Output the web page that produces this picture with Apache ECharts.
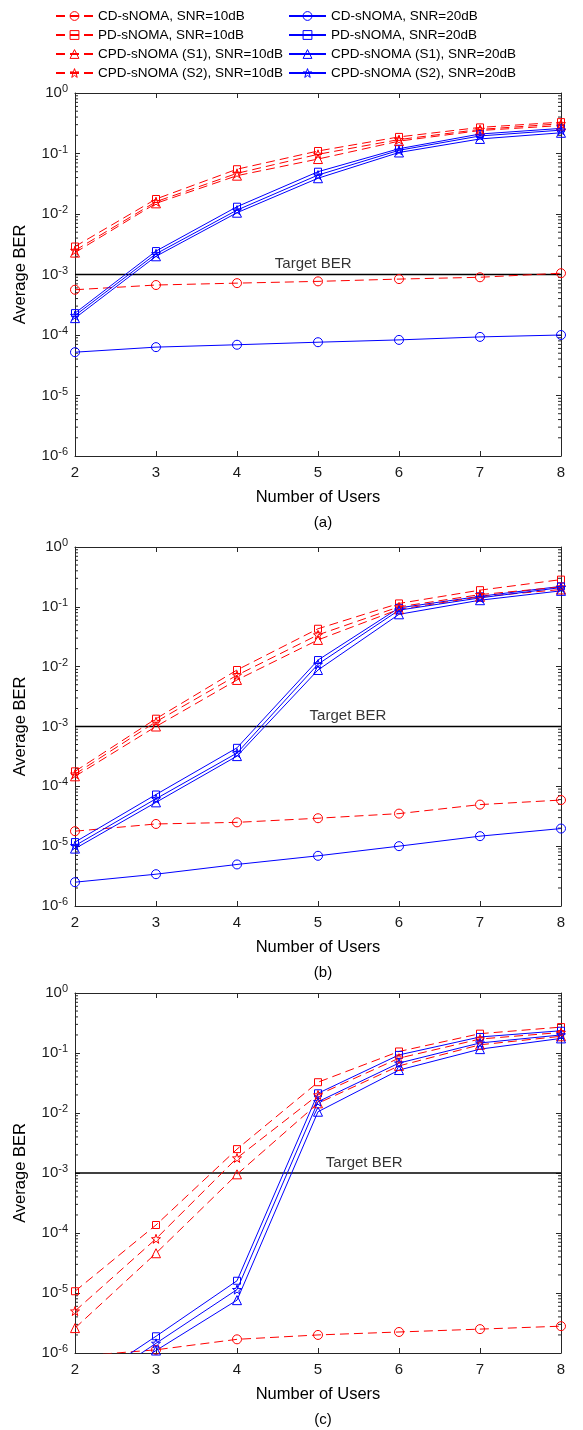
<!DOCTYPE html>
<html>
<head>
<meta charset="utf-8">
<script src="https://cdn.jsdelivr.net/npm/echarts@6/dist/echarts.min.js"></script>
<style>
  html, body { margin: 0; padding: 0; background: #fff; }
  #chart { width: 583px; height: 1430px; }
</style>
</head>
<body>
<div id="chart"></div>
<script>
// Number of users on the x axis
const users = [2, 3, 4, 5, 6, 7, 8];

// (a)
const cd10_a  = [5.6e-4, 6.7e-4, 7.2e-4, 7.7e-4, 8.4e-4, 9.0e-4, 1.05e-3];
const cd20_a  = [5.2e-5, 6.3e-5, 6.9e-5, 7.6e-5, 8.3e-5, 9.3e-5, 1.0e-4];
const pd10_a  = [2.9e-3, 1.77e-2, 5.5e-2, 0.11, 0.188, 0.27, 0.33];
const pd20_a  = [2.3e-4, 2.44e-3, 1.32e-2, 5.0e-2, 0.12, 0.21, 0.26];
const s1_10_a = [2.3e-3, 1.5e-2, 4.3e-2, 0.081, 0.16, 0.24, 0.29];
const s1_20_a = [1.9e-4, 2.0e-3, 1.05e-2, 3.9e-2, 0.104, 0.174, 0.22];
const s2_10_a = [2.5e-3, 1.6e-2, 4.7e-2, 0.097, 0.17, 0.25, 0.31];
const s2_20_a = [2.1e-4, 2.2e-3, 1.16e-2, 4.4e-2, 0.113, 0.195, 0.243];

// (b)
const cd10_b  = [1.78e-5, 2.35e-5, 2.5e-5, 2.93e-5, 3.5e-5, 4.95e-5, 5.9e-5];
const cd20_b  = [2.5e-6, 3.4e-6, 4.95e-6, 6.9e-6, 1.0e-5, 1.47e-5, 1.97e-5];
const pd10_b  = [1.78e-4, 1.35e-3, 8.8e-3, 0.043, 0.114, 0.19, 0.285];
const pd20_b  = [1.17e-5, 7.3e-5, 4.4e-4, 0.0129, 0.096, 0.15, 0.22];
const s1_10_b = [1.47e-4, 1.0e-3, 6.0e-3, 0.028, 0.091, 0.147, 0.195];
const s1_20_b = [9.1e-6, 5.4e-5, 3.2e-4, 8.8e-3, 0.075, 0.129, 0.185];
const s2_10_b = [1.6e-4, 1.2e-3, 7.2e-3, 0.034, 0.1, 0.16, 0.215];
const s2_20_b = [1.02e-5, 6.2e-5, 3.6e-4, 0.011, 0.088, 0.141, 0.21];

// (c)
const cd10_c  = [8.8e-7, 1.13e-6, 1.69e-6, 2.0e-6, 2.24e-6, 2.5e-6, 2.8e-6];
const pd10_c  = [1.07e-5, 1.36e-4, 2.5e-3, 0.0326, 0.106, 0.21, 0.27];
const pd20_c  = [2.4e-7, 1.9e-6, 1.6e-5, 0.0213, 0.093, 0.185, 0.235];
const s1_10_c = [2.6e-6, 4.6e-5, 9.5e-4, 0.0145, 0.061, 0.137, 0.19];
const s1_20_c = [1.4e-7, 1.1e-6, 7.6e-6, 0.0105, 0.052, 0.116, 0.175];
const s2_10_c = [5.0e-6, 8.0e-5, 1.78e-3, 0.020, 0.082, 0.171, 0.22];
const s2_20_c = [1.8e-7, 1.45e-6, 1.14e-5, 0.0154, 0.068, 0.147, 0.2];

// Target BER reference and where its caption sits along x
const targetBER = 1e-3;
const targetLabelX = [4.94, 5.37, 5.57];

const panelCaptions = ['(a)', '(b)', '(c)'];
const xTitle = 'Number of Users';
const yTitle = 'Average BER';

const seriesNames = {
  cd10: 'CD-sNOMA, SNR=10dB',  cd20: 'CD-sNOMA, SNR=20dB',
  pd10: 'PD-sNOMA, SNR=10dB',  pd20: 'PD-sNOMA, SNR=20dB',
  s1_10: 'CPD-sNOMA (S1), SNR=10dB', s1_20: 'CPD-sNOMA (S1), SNR=20dB',
  s2_10: 'CPD-sNOMA (S2), SNR=10dB', s2_20: 'CPD-sNOMA (S2), SNR=20dB'
};

const panels = [
  { cd10: cd10_a, cd20: cd20_a, pd10: pd10_a, pd20: pd20_a, s1_10: s1_10_a, s1_20: s1_20_a, s2_10: s2_10_a, s2_20: s2_20_a },
  { cd10: cd10_b, cd20: cd20_b, pd10: pd10_b, pd20: pd20_b, s1_10: s1_10_b, s1_20: s1_20_b, s2_10: s2_10_b, s2_20: s2_20_b },
  { cd10: cd10_c, pd10: pd10_c, pd20: pd20_c, s1_10: s1_10_c, s1_20: s1_20_c, s2_10: s2_10_c, s2_20: s2_20_c }
];

const FONT = '"Liberation Sans", Arial, Helvetica, sans-serif';
const AXIS = '#262626';
const RED = '#ff0000';
const BLUE = '#0000ff';
const STAR = 'path://M0,-10L2.35,-3.24L9.51,-3.09L3.8,1.24L5.88,8.09L0,4L-5.88,8.09L-3.8,1.24L-9.51,-3.09L-2.35,-3.24Z';

const styles = {
  cd10:  { color: RED,  dash: [9, 5], symbol: 'circle',   size: 9 },
  cd20:  { color: BLUE, dash: 'solid', symbol: 'circle',  size: 9 },
  pd10:  { color: RED,  dash: [9, 5], symbol: 'rect',     size: 7 },
  pd20:  { color: BLUE, dash: 'solid', symbol: 'rect',    size: 7 },
  s1_10: { color: RED,  dash: [9, 5], symbol: 'triangle', size: 9 },
  s1_20: { color: BLUE, dash: 'solid', symbol: 'triangle',size: 9 },
  s2_10: { color: RED,  dash: [9, 5], symbol: STAR,       size: 9 },
  s2_20: { color: BLUE, dash: 'solid', symbol: STAR,      size: 9 }
};
const drawOrder = ['cd10', 'cd20', 'pd10', 'pd20', 's1_10', 's1_20', 's2_10', 's2_20'];

// Plot-area boxes for the three stacked panels
const boxes = [
  { top: 93,  height: 363 },
  { top: 547, height: 359 },
  { top: 993, height: 360 }
];
const gridLeft = 75, gridWidth = 486;

const grids = [], xAxes = [], yAxes = [], series = [], titles = [];

boxes.forEach((b, g) => {
  grids.push({ left: gridLeft, top: b.top, width: gridWidth, height: b.height, containLabel: false });

  // bottom x axis with labels, top x axis for the box
  xAxes.push({
    type: 'value', gridIndex: g, min: 2, max: 8, interval: 1, position: 'bottom',
    name: xTitle, nameLocation: 'middle', nameGap: 33,
    nameTextStyle: { fontFamily: FONT, fontSize: 16.5, color: '#000' },
    axisLine: { show: true, onZero: false, lineStyle: { color: AXIS, width: 1 } },
    axisTick: { show: true, inside: true, length: 5, lineStyle: { color: AXIS } },
    axisLabel: { fontFamily: FONT, fontSize: 15, color: '#1a1a1a', margin: 9 },
    splitLine: { show: false }
  });
  xAxes.push({
    type: 'value', gridIndex: g, min: 2, max: 8, interval: 1, position: 'top',
    axisLine: { show: true, onZero: false, lineStyle: { color: AXIS, width: 1 } },
    axisTick: { show: true, inside: true, length: 5, lineStyle: { color: AXIS } },
    axisLabel: { show: false }, splitLine: { show: false }
  });

  yAxes.push({
    type: 'log', logBase: 10, gridIndex: g, min: 1e-6, max: 1, splitNumber: 6, position: 'left',
    name: yTitle, nameLocation: 'middle', nameGap: 46,
    nameTextStyle: { fontFamily: FONT, fontSize: 16.5, color: '#000' },
    axisLine: { show: true, onZero: false, lineStyle: { color: AXIS, width: 1 } },
    axisTick: { show: true, inside: true, length: 5, lineStyle: { color: AXIS } },
    axisLabel: {
      margin: 7, color: '#1a1a1a',
      formatter: v => '{b|10}{s|' + Math.round(Math.log10(v)) + '}',
      rich: {
        b: { fontFamily: FONT, fontSize: 15, color: '#1a1a1a' },
        s: { fontFamily: FONT, fontSize: 11, color: '#1a1a1a', verticalAlign: 'bottom', padding: [0, 0, 8, 0] }
      }
    },
    splitLine: { show: false }
  });
  yAxes.push({
    type: 'log', logBase: 10, gridIndex: g, min: 1e-6, max: 1, splitNumber: 6, position: 'right',
    axisLine: { show: true, onZero: false, lineStyle: { color: AXIS, width: 1 } },
    axisTick: { show: true, inside: true, length: 5, lineStyle: { color: AXIS } },
    axisLabel: { show: false }, splitLine: { show: false }
  });

  const p = panels[g];
  drawOrder.forEach(key => {
    if (!p[key]) return;
    const st = styles[key];
    series.push({
      name: seriesNames[key], type: 'line', xAxisIndex: g * 2, yAxisIndex: g * 2,
      data: users.map((u, i) => [u, p[key][i]]),
      symbol: st.symbol, symbolSize: st.size, showAllSymbol: true, clip: true,
      lineStyle: { color: st.color, width: 1, type: st.dash },
      itemStyle: { color: 'rgba(255,255,255,0)', borderColor: st.color, borderWidth: 1 },
      emphasis: { disabled: true }, animation: false, z: 3
    });
  });

  // Target BER line and its caption
  series.push({
    name: 'Target BER', type: 'line', xAxisIndex: g * 2, yAxisIndex: g * 2,
    data: [[users[0], targetBER], [users[users.length - 1], targetBER]],
    symbol: 'none', lineStyle: { color: '#000', width: 1.5 }, animation: false, z: 2,
    emphasis: { disabled: true }
  });
  series.push({
    name: 'Target BER label', type: 'scatter', xAxisIndex: g * 2, yAxisIndex: g * 2,
    data: [[targetLabelX[g], targetBER]], symbolSize: 0, animation: false,
    label: { show: true, position: 'top', distance: 3, formatter: 'Target BER',
             fontFamily: FONT, fontSize: 15, color: '#000' },
    emphasis: { disabled: true }
  });

  titles.push({
    text: panelCaptions[g], left: gridLeft + gridWidth / 2, top: b.top + b.height + 54,
    textAlign: 'center',
    textStyle: { fontFamily: FONT, fontSize: 15, fontWeight: 'normal', color: '#000' }
  });
});

const legendCommon = {
  orient: 'vertical', top: 9, itemWidth: 37, itemHeight: 11, itemGap: 5,
  padding: 0, selectedMode: false,
  textStyle: { fontFamily: FONT, fontSize: 13.5, color: '#000', lineHeight: 14, padding: [0, 0, 0, 0] },
  itemStyle: { borderWidth: 1 }
};

const option = {
  backgroundColor: '#fff',
  animation: false,
  title: titles,
  legend: [
    Object.assign({}, legendCommon, { left: 55, data: [seriesNames.cd10, seriesNames.pd10, seriesNames.s1_10, seriesNames.s2_10] }),
    Object.assign({}, legendCommon, { left: 288, data: [seriesNames.cd20, seriesNames.pd20, seriesNames.s1_20, seriesNames.s2_20] })
  ],
  grid: grids,
  xAxis: xAxes,
  yAxis: yAxes,
  series: series
};

const chart = echarts.init(document.getElementById('chart'), null, { renderer: 'canvas' });
chart.setOption(option);

// Logarithmic minor ticks (2..9 x 10^k) on the left and right edges of each box
const minor = [];
boxes.forEach((b, g) => {
  const xl = gridLeft, xr = gridLeft + gridWidth;
  for (let k = -6; k < 0; k++) {
    for (let m = 2; m <= 9; m++) {
      const y = chart.convertToPixel({ yAxisIndex: g * 2 }, m * Math.pow(10, k));
      minor.push({ type: 'line', shape: { x1: xl, y1: y, x2: xl + 3, y2: y }, style: { stroke: AXIS, lineWidth: 1 }, silent: true });
      minor.push({ type: 'line', shape: { x1: xr - 3, y1: y, x2: xr, y2: y }, style: { stroke: AXIS, lineWidth: 1 }, silent: true });
    }
  }
});
chart.setOption({ graphic: minor });
</script>
</body>
</html>
